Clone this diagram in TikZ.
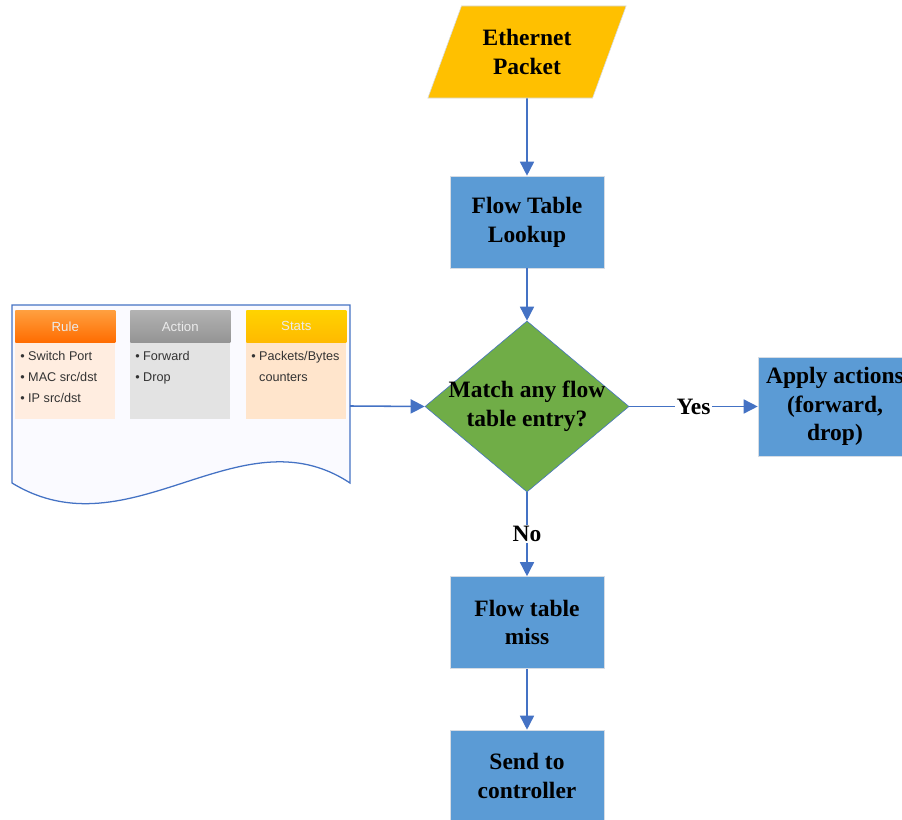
\documentclass[tikz,border=0pt]{standalone}
\usepackage{fontspec}
\setmainfont{Liberation Serif}
\setsansfont{Liberation Sans}
\usepackage{xcolor}
\usetikzlibrary{shapes.geometric, arrows.meta, positioning, calc}

\definecolor{flowblue}{HTML}{5B9BD5}
\definecolor{linkblue}{HTML}{4472C4}
\definecolor{packetgold}{HTML}{FFC000}
\definecolor{matchgreen}{HTML}{70AD47}
\definecolor{boxedge}{HTML}{D6DCE4}

\begin{document}
\begin{tikzpicture}[
    x=0.025cm, y=-0.025cm,
    step box/.style={draw=boxedge, fill=flowblue, minimum width=3.85cm, minimum height=2.3cm, inner sep=0pt, font=\fontsize{16.7}{20.5}\selectfont\bfseries, align=center},
    decide/.style={diamond, draw=linkblue, fill=matchgreen, minimum width=5.1cm, minimum height=4.275cm, inner sep=0pt},
    link/.style={draw=linkblue, line width=1.1pt, -{Triangle[length=10pt,width=10pt]}},
    cardhead/.style={minimum width=2.5cm, minimum height=0.8cm, inner sep=0pt, font=\sffamily\fontsize{9.4}{10}\selectfont, text=white!92!black},
    cardbody/.style={minimum width=2.5cm, minimum height=1.9cm, inner sep=0pt},
    cardtext/.style={anchor=north west, inner sep=0pt, align=left, font=\sffamily\fontsize{9}{14.9}\selectfont, text=black!80},
]
    \useasboundingbox (0,0) rectangle (902,820);

    % input packet
    \node[trapezium, trapezium left angle=63.4, trapezium right angle=116.6, trapezium stretches,
          draw=boxedge, fill=packetgold, minimum width=5cm, minimum height=2.3cm, inner sep=0pt,
          font=\fontsize{16.7}{20.5}\selectfont\bfseries, align=center] (packet) at (527,52) {Ethernet\\Packet};

    \node[step box] (lookup) at (527,222) {Flow Table\\Lookup};
    \node[decide] (match) at (527,406.5) {};
    \node[font=\fontsize{16.7}{20.5}\selectfont\bfseries, align=center, inner sep=0pt] (matchtext) at (527,406) {Match any flow\\table entry?};
    \node[step box, minimum height=2.475cm] (apply) at (835,406.5) {Apply actions\\(forward,\\drop)};
    \node[step box] (miss) at (527,622.5) {Flow table\\miss};
    \node[step box] (send) at (527,776) {Send to\\controller};

    % flow table document
    \draw[linkblue, line width=0.9pt, fill=blue!2] (12,305) -- (350,305) -- (350,483)
        .. controls (240,410) and (130,555) .. (12,483) -- cycle;
    \coordinate (tableout) at (350,406);

    \node[cardhead, top color=orange!75!white, bottom color=orange!85!red, anchor=north west] (rulehead) at (15,310) {Rule};
    \node[cardbody, fill=red!20!orange!12!white, anchor=north west] (rulebody) at (rulehead.south west) {};
    \node[cardtext] (ruletext) at (20,351) {\textbullet\ Switch Port\\\textbullet\ MAC src/dst\\\textbullet\ IP src/dst};

    \node[cardhead, top color=black!30, bottom color=black!42, anchor=north west] (acthead) at (130,310) {Action};
    \node[cardbody, fill=black!11, anchor=north west] (actbody) at (acthead.south west) {};
    \node[cardtext] (acttext) at (135,351) {\textbullet\ Forward\\\textbullet\ Drop};

    \node[cardhead, top color=packetgold!70!yellow, bottom color=packetgold!90!orange, anchor=north west] (stathead) at (246,310) {Stats};
    \node[cardbody, fill=orange!20!white, anchor=north west] (statbody) at (stathead.south west) {};
    \node[cardtext] (stattext) at (251,351) {\textbullet\ Packets/Bytes\\\phantom{\textbullet\ }counters};

    % connectors
    \draw[link] (packet.south) -- (lookup.north);
    \draw[link] (lookup.south) -- (match.north);
    \draw[link] (tableout) -- (match.west);
    \draw[link] (match.east) -- node[fill=white, inner sep=1pt, font=\fontsize{16.7}{20.5}\selectfont\bfseries] (yes) {Yes} (apply.west);
    \draw[link] (match.south) -- node[fill=white, inner sep=1pt, font=\fontsize{16.7}{20.5}\selectfont\bfseries] (no) {No} (miss.north);
    \draw[link] (miss.south) -- (send.north);
\end{tikzpicture}
\end{document}
